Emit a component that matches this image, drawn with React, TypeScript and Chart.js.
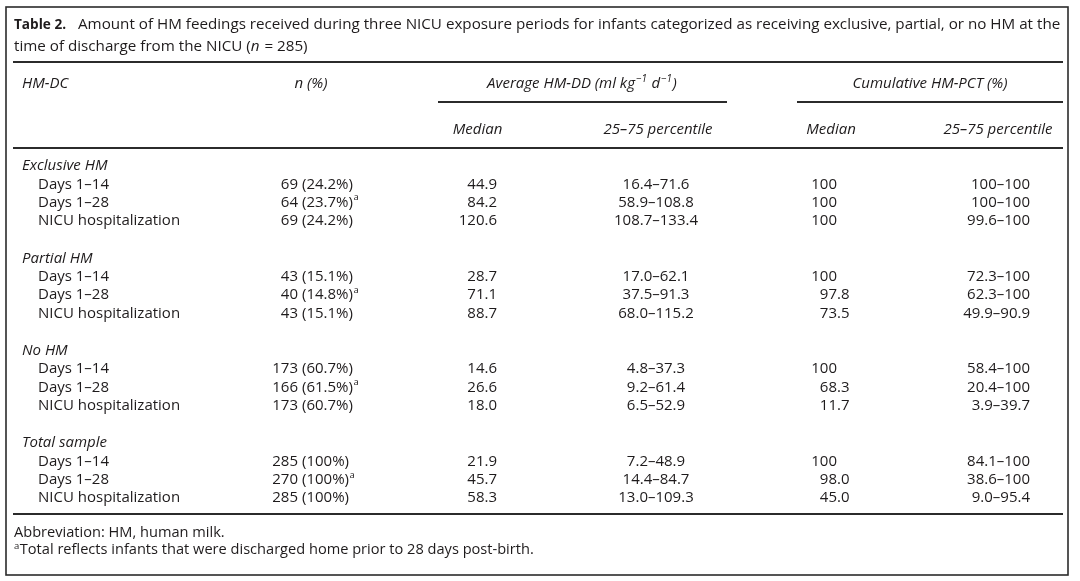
import React, { useEffect, useRef } from "react";
import { Chart, registerables } from "chart.js";

Chart.register(...registerables);

// ---------- data ----------
const titleLabel = "Table 2.";
const titleLine1 =
  "Amount of HM feedings received during three NICU exposure periods for infants categorized as receiving exclusive, partial, or no HM at the";
const titleLine2a = "time of discharge from the NICU (";
const titleLine2n = "n";
const titleLine2b = " = 285)";

const groups = ["Exclusive HM", "Partial HM", "No HM", "Total sample"];
const periods = ["Days 1–14", "Days 1–28", "NICU hospitalization"];
const nCounts = [
  ["69", "64", "69"],
  ["43", "40", "43"],
  ["173", "166", "173"],
  ["285", "270", "285"],
];
const nPercents = [
  ["24.2%", "23.7%", "24.2%"],
  ["15.1%", "14.8%", "15.1%"],
  ["60.7%", "61.5%", "60.7%"],
  ["100%", "100%", "100%"],
];
const nFootnoteMark = [false, true, false];
const ddMedian = [
  ["44.9", "84.2", "120.6"],
  ["28.7", "71.1", "88.7"],
  ["14.6", "26.6", "18.0"],
  ["21.9", "45.7", "58.3"],
];
const ddIQR = [
  ["16.4–71.6", "58.9–108.8", "108.7–133.4"],
  ["17.0–62.1", "37.5–91.3", "68.0–115.2"],
  ["4.8–37.3", "9.2–61.4", "6.5–52.9"],
  ["7.2–48.9", "14.4–84.7", "13.0–109.3"],
];
const pctMedian = [
  ["100", "100", "100"],
  ["100", "97.8", "73.5"],
  ["100", "68.3", "11.7"],
  ["100", "98.0", "45.0"],
];
const pctIQR = [
  ["100–100", "100–100", "99.6–100"],
  ["72.3–100", "62.3–100", "49.9–90.9"],
  ["58.4–100", "20.4–100", "3.9–39.7"],
  ["84.1–100", "38.6–100", "9.0–95.4"],
];
const headHMDC = "HM-DC";
const headN = "n (%)";
const headAvg = ["Average HM-DD (ml kg", "−1", " d", "−1", ")"];
const headCum = "Cumulative HM-PCT (%)";
const headMedian = "Median";
const headIQR = "25–75 percentile";
const footAbbrev = "Abbreviation: HM, human milk.";
const footMark = "a";
const footNote = "Total reflects infants that were discharged home prior to 28 days post-birth.";

// ---------- layout ----------
const W = 1080;
const H = 581;
const INK = "#1e1b1c";
const FAMILY = '"Open Sans", "Noto Sans", sans-serif';
const SIZE = 15;
const TITLE_SIZE = 15.2;
const FOOT_SIZE = 14.6;

function setFont(ctx: CanvasRenderingContext2D, size: number, italic = false, bold = false) {
  ctx.font = `${italic ? "italic " : ""}${bold ? "bold " : ""}${size}px ${FAMILY}`;
}

const tablePlugin = {
  id: "tableDraw",
  afterDraw(chart: any) {
    const ctx: CanvasRenderingContext2D = chart.ctx;
    const xs = chart.scales.x;
    const ys = chart.scales.y;
    const X = (v: number) => xs.getPixelForValue(v);
    const Y = (v: number) => ys.getPixelForValue(v);

    ctx.save();
    ctx.fillStyle = "#ffffff";
    ctx.fillRect(X(0), Y(0), X(W) - X(0), Y(H) - Y(0));
    ctx.fillStyle = INK;
    ctx.strokeStyle = "#2b2b2b";
    ctx.textBaseline = "middle";

    const text = (
      s: string,
      x: number,
      y: number,
      align: CanvasTextAlign = "left",
      size = SIZE,
      italic = false,
      bold = false
    ) => {
      setFont(ctx, size, italic, bold);
      ctx.textAlign = align;
      ctx.fillText(s, X(x), Y(y));
      return ctx.measureText(s).width;
    };
    const hline = (x1: number, x2: number, y: number, w: number) => {
      ctx.lineWidth = w;
      ctx.beginPath();
      ctx.moveTo(X(x1), Y(y));
      ctx.lineTo(X(x2), Y(y));
      ctx.stroke();
    };

    // outer frame
    ctx.lineWidth = 1.6;
    ctx.strokeRect(X(6), Y(7), X(1068) - X(6), Y(575) - Y(7));

    // title
    text(titleLabel, 14, 25, "left", 13.6, false, true);
    text(titleLine1, 78, 25, "left", TITLE_SIZE);
    let w = text(titleLine2a, 14, 47, "left", TITLE_SIZE);
    let w2 = text(titleLine2n, 14 + w, 47, "left", TITLE_SIZE, true);
    text(titleLine2b, 14 + w + w2 + 1, 47, "left", TITLE_SIZE);

    // rules
    hline(13, 1063, 62, 2.2);
    hline(438, 727, 102, 1.8);
    hline(797, 1063, 102, 1.8);
    hline(13, 1063, 148, 2.2);
    hline(13, 1063, 514, 2.2);

    // header row 1
    text(headHMDC, 22, 84, "left", SIZE, true);
    text(headN, 311, 84, "center", SIZE, true);
    {
      const pieces = headAvg.map((p, i) => ({ s: p, sup: i === 1 || i === 3 }));
      let total = 0;
      const widths = pieces.map((p) => {
        setFont(ctx, p.sup ? 10 : SIZE, true);
        const ww = ctx.measureText(p.s).width + (p.sup ? 1.5 : 0);
        total += ww;
        return ww;
      });
      let cx = 582 - total / 2;
      pieces.forEach((p, i) => {
        text(p.s, cx + (p.sup ? 1 : 0), p.sup ? 79 : 84, "left", p.sup ? 10 : SIZE, true);
        cx += widths[i];
      });
    }
    text(headCum, 930, 84, "center", SIZE, true);

    // header row 2
    text(headMedian, 477.5, 130, "center", SIZE, true);
    text(headIQR, 658, 130, "center", SIZE, true);
    text(headMedian, 831, 130, "center", SIZE, true);
    text(headIQR, 998, 130, "center", SIZE, true);

    // body
    groups.forEach((g, gi) => {
      const gy = 166 + gi * 92.4;
      text(g, 22, gy, "left", SIZE, true);
      periods.forEach((p, ri) => {
        const y = gy + 18.3 * (ri + 1);
        text(p, 38, y, "left");
        text(nCounts[gi][ri], 298, y, "right");
        const pw = text(`(${nPercents[gi][ri]})`, 302, y, "left");
        if (nFootnoteMark[ri]) text(footMark, 302 + pw + 0.5, y - 5, "left", 9.5);
        text(ddMedian[gi][ri], 497, y, "right");
        text(ddIQR[gi][ri], 656, y, "center");
        const pm = pctMedian[gi][ri];
        const dot = pm.indexOf(".");
        if (dot < 0) {
          text(pm, 837, y, "right");
        } else {
          text(pm.slice(0, dot), 837, y, "right");
          text(pm.slice(dot), 837, y, "left");
        }
        text(pctIQR[gi][ri], 1030, y, "right");
      });
    });

    // footnotes
    text(footAbbrev, 14, 533, "left", FOOT_SIZE);
    const mw = text(footMark, 14, 546, "left", 9.5);
    text(footNote, 14 + mw + 0.5, 550, "left", FOOT_SIZE);

    ctx.restore();
  },
};

export default function App() {
  const ref = useRef<HTMLCanvasElement>(null);
  useEffect(() => {
    document.body.style.margin = "0";
    document.body.style.overflow = "hidden";
    const chart = new Chart(ref.current as HTMLCanvasElement, {
      type: "scatter",
      data: { datasets: [{ data: [], pointRadius: 0 }] },
      options: {
        animation: false,
        responsive: false,
        events: [],
        layout: { padding: 0 },
        scales: {
          x: { type: "linear", min: 0, max: W, display: false },
          y: { type: "linear", min: 0, max: H, reverse: true, display: false },
        },
        plugins: { legend: { display: false }, tooltip: { enabled: false } },
      },
      plugins: [tablePlugin],
    } as any);
    return () => chart.destroy();
  }, []);
  return <canvas ref={ref} width={W} height={H} style={{ display: "block" }} />;
}
